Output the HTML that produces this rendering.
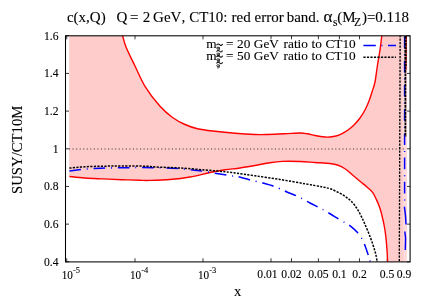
<!DOCTYPE html>
<html><head><meta charset="utf-8"><title>plot</title>
<style>
html,body{margin:0;padding:0;background:#fff;}
body{width:428px;height:300px;overflow:hidden;font-family:"Liberation Serif",serif;}
svg{display:block;font-family:"Liberation Serif",serif;will-change:transform;}
text{font-family:"Liberation Serif",serif;font-kerning:none;stroke:#000;stroke-width:0.1px;}
</style></head><body>
<svg width="428" height="300" viewBox="0 0 428 300">
<defs><clipPath id="c"><rect x="65.5" y="35.8" width="344.6" height="226.1"/></clipPath></defs>
<rect width="428" height="300" fill="#fff"/>
<g stroke="#222" stroke-width="0.9" fill="none"><path d="M65.5,35.75 h3.5 M410.1,35.75 h-3.5"/><path d="M65.5,73.43 h3.5 M410.1,73.43 h-3.5"/><path d="M65.5,111.10 h3.5 M410.1,111.10 h-3.5"/><path d="M65.5,148.78 h3.5 M410.1,148.78 h-3.5"/><path d="M65.5,186.45 h3.5 M410.1,186.45 h-3.5"/><path d="M65.5,224.13 h3.5 M410.1,224.13 h-3.5"/><path d="M65.5,261.80 h3.5 M410.1,261.80 h-3.5"/><path d="M66.70,261.8 v-3.5 M66.70,35.8 v3.5"/><path d="M135.00,261.8 v-3.5 M135.00,35.8 v3.5"/><path d="M203.00,261.8 v-3.5 M203.00,35.8 v3.5"/><path d="M271.00,261.8 v-3.5 M271.00,35.8 v3.5"/><path d="M291.50,261.8 v-3.5 M291.50,35.8 v3.5"/><path d="M318.40,261.8 v-3.5 M318.40,35.8 v3.5"/><path d="M339.40,261.8 v-3.5 M339.40,35.8 v3.5"/><path d="M359.50,261.8 v-3.5 M359.50,35.8 v3.5"/><path d="M387.30,261.8 v-3.5 M387.30,35.8 v3.5"/><path d="M404.00,261.8 v-3.5 M404.00,35.8 v3.5"/></g>
<g clip-path="url(#c)">
<path d="M69.2,34.0 L69.2,176.50 L69.40,176.50 C71.95,176.75 79.03,177.60 84.70,178.00 C90.37,178.40 97.18,178.62 103.40,178.90 C109.62,179.18 115.90,179.47 122.00,179.70 C128.10,179.93 135.33,180.18 140.00,180.30 C144.67,180.42 145.00,180.53 150.00,180.40 C155.00,180.27 163.33,180.07 170.00,179.50 C176.67,178.93 183.33,178.17 190.00,177.00 C196.67,175.83 204.17,173.70 210.00,172.50 C215.83,171.30 220.00,170.55 225.00,169.80 C230.00,169.05 235.00,168.72 240.00,168.00 C245.00,167.28 250.00,166.38 255.00,165.50 C260.00,164.62 265.42,163.38 270.00,162.70 C274.58,162.02 277.50,161.60 282.50,161.40 C287.50,161.20 294.58,161.32 300.00,161.50 C305.42,161.68 310.00,162.17 315.00,162.50 C320.00,162.83 326.25,163.08 330.00,163.50 C333.75,163.92 335.00,164.12 337.50,165.00 C340.00,165.88 342.50,167.08 345.00,168.75 C347.50,170.42 350.00,172.92 352.50,175.00 C355.00,177.08 357.50,179.18 360.00,181.25 C362.50,183.32 365.37,185.51 367.50,187.40 C369.63,189.29 371.32,190.57 372.80,192.60 C374.28,194.63 375.41,197.53 376.40,199.60 C377.39,201.67 378.02,203.10 378.75,205.00 C379.48,206.90 380.09,208.50 380.80,211.00 C381.51,213.50 382.37,217.17 383.00,220.00 C383.63,222.83 384.12,225.12 384.60,228.00 C385.08,230.88 385.48,233.42 385.90,237.30 C386.32,241.18 386.82,247.18 387.10,251.30 C387.38,255.42 387.45,258.88 387.60,262.00 C387.75,265.12 387.93,268.67 388.00,270.00 L407,270 L406.6,28 L382.50,28.00 L382.50,28.00 C382.38,29.33 382.17,32.33 381.75,36.00 C381.33,39.67 380.71,45.17 380.00,50.00 C379.29,54.83 378.33,59.67 377.50,65.00 C376.67,70.33 375.92,77.50 375.00,82.00 C374.08,86.50 373.00,88.83 372.00,92.00 C371.00,95.17 370.17,98.00 369.00,101.00 C367.83,104.00 366.50,107.17 365.00,110.00 C363.50,112.83 361.83,115.50 360.00,118.00 C358.17,120.50 356.00,123.00 354.00,125.00 C352.00,127.00 350.00,128.57 348.00,130.00 C346.00,131.43 344.00,132.60 342.00,133.60 C340.00,134.60 338.00,135.43 336.00,136.00 C334.00,136.57 331.83,136.83 330.00,137.00 C328.17,137.17 327.50,137.25 325.00,137.00 C322.50,136.75 317.92,136.03 315.00,135.50 C312.08,134.97 310.00,134.22 307.50,133.80 C305.00,133.38 303.75,133.00 300.00,133.00 C296.25,133.00 290.42,133.55 285.00,133.80 C279.58,134.05 272.50,134.38 267.50,134.50 C262.50,134.62 260.42,134.70 255.00,134.50 C249.58,134.30 241.67,133.83 235.00,133.30 C228.33,132.77 221.25,132.07 215.00,131.30 C208.75,130.53 202.50,129.83 197.50,128.70 C192.50,127.57 189.17,126.37 185.00,124.50 C180.83,122.63 176.67,120.53 172.50,117.50 C168.33,114.47 164.58,111.50 160.00,106.30 C155.42,101.10 149.17,93.02 145.00,86.30 C140.83,79.58 138.13,72.47 135.00,66.00 C131.87,59.53 128.25,52.50 126.20,47.50 C124.15,42.50 123.65,39.25 122.70,36.00 C121.75,32.75 120.87,29.33 120.50,28.00 Z" fill="#ffcccc"/>
<path d="M401.8,30 L403.4,270 L407,270 L406.6,30 Z" fill="#ffdada"/>
<path d="M69,149 H406" stroke="#7a6868" stroke-width="1.3" stroke-dasharray="1.1 2.45" fill="none"/>
<path d="M120.50,28.00 C120.87,29.33 121.75,32.75 122.70,36.00 C123.65,39.25 124.15,42.50 126.20,47.50 C128.25,52.50 131.87,59.53 135.00,66.00 C138.13,72.47 140.83,79.58 145.00,86.30 C149.17,93.02 155.42,101.10 160.00,106.30 C164.58,111.50 168.33,114.47 172.50,117.50 C176.67,120.53 180.83,122.63 185.00,124.50 C189.17,126.37 192.50,127.57 197.50,128.70 C202.50,129.83 208.75,130.53 215.00,131.30 C221.25,132.07 228.33,132.77 235.00,133.30 C241.67,133.83 249.58,134.30 255.00,134.50 C260.42,134.70 262.50,134.62 267.50,134.50 C272.50,134.38 279.58,134.05 285.00,133.80 C290.42,133.55 296.25,133.00 300.00,133.00 C303.75,133.00 305.00,133.38 307.50,133.80 C310.00,134.22 312.08,134.97 315.00,135.50 C317.92,136.03 322.50,136.75 325.00,137.00 C327.50,137.25 328.17,137.17 330.00,137.00 C331.83,136.83 334.00,136.57 336.00,136.00 C338.00,135.43 340.00,134.60 342.00,133.60 C344.00,132.60 346.00,131.43 348.00,130.00 C350.00,128.57 352.00,127.00 354.00,125.00 C356.00,123.00 358.17,120.50 360.00,118.00 C361.83,115.50 363.50,112.83 365.00,110.00 C366.50,107.17 367.83,104.00 369.00,101.00 C370.17,98.00 371.00,95.17 372.00,92.00 C373.00,88.83 374.08,86.50 375.00,82.00 C375.92,77.50 376.67,70.33 377.50,65.00 C378.33,59.67 379.29,54.83 380.00,50.00 C380.71,45.17 381.33,39.67 381.75,36.00 C382.17,32.33 382.38,29.33 382.50,28.00" stroke="#ff0000" stroke-width="1.4" fill="none"/>
<path d="M69.40,176.50 C71.95,176.75 79.03,177.60 84.70,178.00 C90.37,178.40 97.18,178.62 103.40,178.90 C109.62,179.18 115.90,179.47 122.00,179.70 C128.10,179.93 135.33,180.18 140.00,180.30 C144.67,180.42 145.00,180.53 150.00,180.40 C155.00,180.27 163.33,180.07 170.00,179.50 C176.67,178.93 183.33,178.17 190.00,177.00 C196.67,175.83 204.17,173.70 210.00,172.50 C215.83,171.30 220.00,170.55 225.00,169.80 C230.00,169.05 235.00,168.72 240.00,168.00 C245.00,167.28 250.00,166.38 255.00,165.50 C260.00,164.62 265.42,163.38 270.00,162.70 C274.58,162.02 277.50,161.60 282.50,161.40 C287.50,161.20 294.58,161.32 300.00,161.50 C305.42,161.68 310.00,162.17 315.00,162.50 C320.00,162.83 326.25,163.08 330.00,163.50 C333.75,163.92 335.00,164.12 337.50,165.00 C340.00,165.88 342.50,167.08 345.00,168.75 C347.50,170.42 350.00,172.92 352.50,175.00 C355.00,177.08 357.50,179.18 360.00,181.25 C362.50,183.32 365.37,185.51 367.50,187.40 C369.63,189.29 371.32,190.57 372.80,192.60 C374.28,194.63 375.41,197.53 376.40,199.60 C377.39,201.67 378.02,203.10 378.75,205.00 C379.48,206.90 380.09,208.50 380.80,211.00 C381.51,213.50 382.37,217.17 383.00,220.00 C383.63,222.83 384.12,225.12 384.60,228.00 C385.08,230.88 385.48,233.42 385.90,237.30 C386.32,241.18 386.82,247.18 387.10,251.30 C387.38,255.42 387.45,258.88 387.60,262.00 C387.75,265.12 387.93,268.67 388.00,270.00" stroke="#ff0000" stroke-width="1.4" fill="none"/>
<path d="M406.3,36 L405.9,70" stroke="#ff0000" stroke-width="1.2" fill="none"/>
<path d="M69.40,170.90 C71.33,170.68 76.95,170.02 81.00,169.60 C85.05,169.18 89.65,168.65 93.70,168.40 C97.75,168.15 101.20,168.22 105.30,168.10 C109.40,167.98 114.25,167.77 118.30,167.70 C122.35,167.63 125.57,167.72 129.60,167.70 C133.63,167.68 135.35,167.51 142.50,167.60 C149.65,167.69 163.33,167.77 172.50,168.25 C181.67,168.73 189.58,169.54 197.50,170.50 C205.42,171.46 214.10,173.07 220.00,174.00 C225.90,174.93 229.67,175.60 232.90,176.10 C236.13,176.60 236.48,176.35 239.40,177.00 C242.32,177.65 247.57,179.27 250.40,180.00 C253.23,180.73 254.37,180.90 256.40,181.40 C258.43,181.90 259.70,182.18 262.60,183.00 C265.50,183.82 270.93,185.35 273.80,186.30 C276.67,187.25 277.52,187.72 279.80,188.70 C282.08,189.68 284.55,190.94 287.50,192.20 C290.45,193.46 294.79,195.02 297.50,196.25 C300.21,197.48 301.67,198.47 303.75,199.60 C305.83,200.72 307.29,201.60 310.00,203.00 C312.71,204.40 317.50,206.71 320.00,208.00 C322.50,209.29 323.12,209.67 325.00,210.75 C326.88,211.83 328.96,213.12 331.25,214.50 C333.54,215.88 336.44,217.63 338.75,219.00 C341.06,220.37 343.14,221.50 345.10,222.70 C347.06,223.90 348.43,224.55 350.50,226.20 C352.57,227.85 355.57,230.47 357.50,232.60 C359.43,234.73 360.93,237.05 362.10,239.00 C363.27,240.95 363.45,241.55 364.50,244.30 C365.55,247.05 367.43,252.55 368.40,255.50 C369.37,258.45 369.70,259.92 370.30,262.00 C370.90,264.08 371.72,267.00 372.00,268.00" stroke="#0000ff" stroke-width="1.5" stroke-dasharray="11.6 5.85 1 5.85" stroke-dashoffset="0" fill="none"/>
<path d="M404.6,36.6 V205" stroke="#0000ff" stroke-width="1.5" stroke-dasharray="11.6 6 1 5.6" fill="none"/>
<path d="M404.4,206.7 L405.5,215.6 L406.0,224.5 M404.8,231.5 L405.6,238 L405.3,250" stroke="#0000ff" stroke-width="1.5" fill="none"/>
<path d="M69.40,168.10 C71.95,167.88 79.03,167.12 84.70,166.80 C90.37,166.48 97.18,166.33 103.40,166.20 C109.62,166.07 114.90,166.00 122.00,166.00 C129.10,166.00 140.50,166.03 146.00,166.20 C151.50,166.37 149.33,166.70 155.00,167.00 C160.67,167.30 171.67,167.50 180.00,168.00 C188.33,168.50 197.50,169.38 205.00,170.00 C212.50,170.62 219.67,171.16 225.00,171.70 C230.33,172.24 232.00,172.57 237.00,173.25 C242.00,173.93 247.83,174.71 255.00,175.75 C262.17,176.79 271.67,178.17 280.00,179.50 C288.33,180.83 297.92,182.50 305.00,183.75 C312.08,185.00 318.33,186.17 322.50,187.00 C326.67,187.83 327.50,187.92 330.00,188.75 C332.50,189.58 335.00,190.75 337.50,192.00 C340.00,193.25 342.71,194.71 345.00,196.25 C347.29,197.79 349.38,199.38 351.25,201.25 C353.12,203.12 354.79,205.42 356.25,207.50 C357.71,209.58 358.62,211.12 360.00,213.75 C361.38,216.38 362.78,219.38 364.50,223.30 C366.22,227.23 368.55,232.63 370.30,237.30 C372.05,241.97 373.83,247.18 375.00,251.30 C376.17,255.42 376.72,259.22 377.30,262.00 C377.88,264.78 378.30,267.00 378.50,268.00" stroke="#000" stroke-width="1.5" stroke-dasharray="2.2 1.3" fill="none"/>
<path d="M400.15,35 L399.3,262.5" stroke="#000" stroke-width="1.35" stroke-dasharray="2.2 1.3" fill="none"/>
<path d="M405.5,36 V66" stroke="#000" stroke-width="2.3" stroke-dasharray="2.8 0.7" fill="none"/><path d="M405.4,66.5 V137" stroke="#000" stroke-width="1.8" stroke-dasharray="2.8 0.7" fill="none"/>
</g>
<rect x="65.5" y="35.8" width="344.6" height="226.1" fill="none" stroke="#000" stroke-width="1.05"/>
<g font-size="12.2px" fill="#000"><text transform="translate(58.6,39.55) scale(0.955,1)" text-anchor="end">1.6</text><text transform="translate(58.6,77.23) scale(0.955,1)" text-anchor="end">1.4</text><text transform="translate(58.6,114.90) scale(0.955,1)" text-anchor="end">1.2</text><text transform="translate(58.6,152.58) scale(0.955,1)" text-anchor="end">1</text><text transform="translate(58.6,190.25) scale(0.955,1)" text-anchor="end">0.8</text><text transform="translate(58.6,227.93) scale(0.955,1)" text-anchor="end">0.6</text><text transform="translate(58.6,265.60) scale(0.955,1)" text-anchor="end">0.4</text><text transform="translate(61.70,278.7) scale(0.92,1)">10<tspan dy="-5.4" font-size="9.2px">-5</tspan></text><text transform="translate(130.00,278.7) scale(0.92,1)">10<tspan dy="-5.4" font-size="9.2px">-4</tspan></text><text transform="translate(198.00,278.7) scale(0.92,1)">10<tspan dy="-5.4" font-size="9.2px">-3</tspan></text><text transform="translate(267.50,277.9) scale(0.955,1)" text-anchor="middle">0.01</text><text transform="translate(291.50,277.9) scale(0.955,1)" text-anchor="middle">0.02</text><text transform="translate(318.40,277.9) scale(0.955,1)" text-anchor="middle">0.05</text><text transform="translate(339.40,277.9) scale(0.955,1)" text-anchor="middle">0.1</text><text transform="translate(359.50,277.9) scale(0.955,1)" text-anchor="middle">0.2</text><text transform="translate(387.00,277.9) scale(0.955,1)" text-anchor="middle">0.5</text><text transform="translate(404.00,277.9) scale(0.955,1)" text-anchor="middle">0.9</text></g>
<text x="237.7" y="296.3" font-size="14.6px" text-anchor="middle">x</text>
<text transform="translate(21.6,149.8) rotate(-90)" font-size="14.75px" text-anchor="middle">SUSY/CT10M</text>
<g font-size="15px"><text x="66.9" y="21.8">c(x,Q)</text><text x="116.5" y="21.8">Q</text><text x="130.0" y="21.8">=</text><text x="142.8" y="21.8">2</text><text x="153.1" y="21.8">GeV,</text><text x="189.2" y="21.8">CT10:</text><text x="231.5" y="21.8">red</text><text x="254.5" y="21.8">error</text><text x="286.7" y="21.8">band.</text>
<text x="323.4" y="21.9" font-size="17px">&#945;</text>
<text x="333" y="25.5" font-size="11.6px">s</text>
<text x="337.2" y="21.8">(M</text>
<text x="353.9" y="25.6" font-size="11.6px">Z</text>
<text x="361.9" y="21.8">)=0.118</text>
</g>
<g font-size="13.3px"><text x="206.3" y="48.4">m</text><text x="226.0" y="48.4">=</text><text x="237.1" y="48.4">20</text><text x="253.8" y="48.4">GeV</text><text x="283.6" y="48.4">ratio</text><text x="311.5" y="48.4">to</text><text x="325.4" y="48.4">CT10</text><path d="M216.5,45.20 c1.0,-1.7 2.2,-1.5 3.1,-0.5 s2.1,1.2 3.0,-0.6" stroke="#000" stroke-width="1.05" fill="none" opacity="1.00"/><ellipse cx="218" cy="48.10" rx="1.25" ry="1.0" stroke="#000" stroke-width="0.8" fill="none" opacity="1.00"/><path d="M219.35,47.10 v2.6 q-0.1,1.0 -2.3,0.5" stroke="#000" stroke-width="0.8" fill="none" opacity="1.00"/><path d="M216.5,51.70 c1.0,-1.7 2.2,-1.5 3.1,-0.5 s2.1,1.2 3.0,-0.6" stroke="#000" stroke-width="1.05" fill="none" opacity="0.90"/><ellipse cx="218" cy="54.00" rx="1.25" ry="1.0" stroke="#000" stroke-width="0.8" fill="none" opacity="0.90"/><path d="M219.35,53.00 v2.6 q-0.1,1.0 -2.3,0.5" stroke="#000" stroke-width="0.8" fill="none" opacity="0.90"/><text x="206.3" y="60.1">m</text><text x="226.0" y="60.1">=</text><text x="237.1" y="60.1">50</text><text x="253.8" y="60.1">GeV</text><text x="283.6" y="60.1">ratio</text><text x="311.5" y="60.1">to</text><text x="325.4" y="60.1">CT10</text><path d="M216.5,56.90 c1.0,-1.7 2.2,-1.5 3.1,-0.5 s2.1,1.2 3.0,-0.6" stroke="#000" stroke-width="1.05" fill="none" opacity="1.00"/><ellipse cx="218" cy="59.80" rx="1.25" ry="1.0" stroke="#000" stroke-width="0.8" fill="none" opacity="1.00"/><path d="M219.35,58.80 v2.6 q-0.1,1.0 -2.3,0.5" stroke="#000" stroke-width="0.8" fill="none" opacity="1.00"/><path d="M216.5,63.40 c1.0,-1.7 2.2,-1.5 3.1,-0.5 s2.1,1.2 3.0,-0.6" stroke="#000" stroke-width="1.05" fill="none" opacity="0.90"/><ellipse cx="218" cy="65.70" rx="1.25" ry="1.0" stroke="#000" stroke-width="0.8" fill="none" opacity="0.90"/><path d="M219.35,64.70 v2.6 q-0.1,1.0 -2.3,0.5" stroke="#000" stroke-width="0.8" fill="none" opacity="0.90"/></g>
<path d="M363.4,45.5 H396" stroke="#0000ff" stroke-width="1.5" stroke-dasharray="12.4 5.6 1 5.6" fill="none"/>
<path d="M363.4,57.3 H396" stroke="#000" stroke-width="1.5" stroke-dasharray="2.2 1.3" fill="none"/>
</svg>
</body></html>
